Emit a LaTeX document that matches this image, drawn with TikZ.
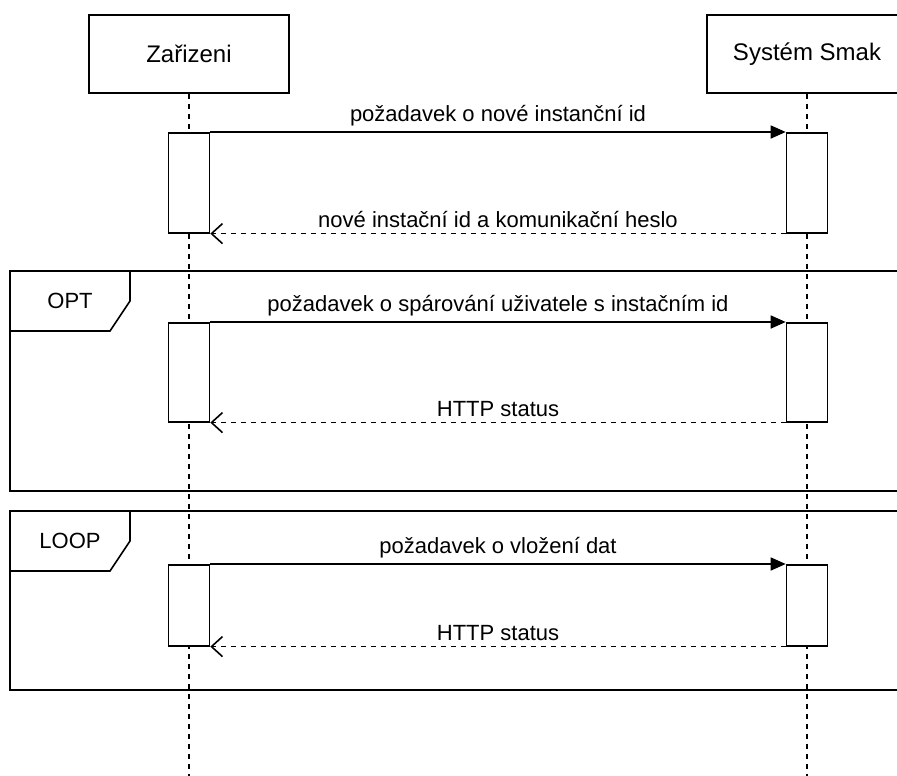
\documentclass[tikz,border=0pt]{standalone}
\usepackage{fontspec}
\setmainfont{Liberation Sans}
\usetikzlibrary{arrows.meta}

\begin{document}
\begin{tikzpicture}[x=1pt, y=-1pt, line width=1.6pt,
    actor/.style={draw, fill=white, minimum width=200pt, minimum height=78pt, font=\fontsize{24}{28}\selectfont},
    act/.style={draw, fill=white, minimum width=41pt, anchor=north},
    lifeline/.style={dash pattern=on 5pt off 5pt},
    msg/.style={-{Triangle[length=15pt, width=13pt]}},
    reply/.style={dash pattern=on 5pt off 5pt, -{Straight Barb[length=11pt, width=20pt]}},
    lbl/.style={midway, above, inner sep=5pt, font=\fontsize{22}{26}\selectfont},
    tag/.style={font=\fontsize{22}{26}\selectfont}]
    \useasboundingbox (0,0) rectangle (897,776);
    \clip (0,0) rectangle (897,776);

    % Draw frames
    \draw (10,271) rectangle (920,491);
    \draw (130,271) -- (130,301) -- (110,331) -- (10,331);
    \node[tag] (opt) at (70,301) {OPT};
    \draw (10,511) rectangle (920,690);
    \draw (130,511) -- (130,541) -- (110,571) -- (10,571);
    \node[tag] (loop) at (70,541) {LOOP};

    % Draw participants
    \node[actor] (zar) at (189,54) {Zařizeni};
    \node[actor] (sys) at (807,54) {Systém Smak};
    \coordinate (zarEnd) at (189,776);
    \coordinate (sysEnd) at (807,776);
    \draw[lifeline] (zar) -- (zarEnd);
    \draw[lifeline] (sys) -- (sysEnd);

    % Draw activations
    \node[act, minimum height=100pt] (z1) at (189,132) {};
    \node[act, minimum height=100pt] (s1) at (807,132) {};
    \node[act, minimum height=99pt] (z2) at (189,322) {};
    \node[act, minimum height=99pt] (s2) at (807,322) {};
    \node[act, minimum height=81pt] (z3) at (189,564) {};
    \node[act, minimum height=81pt] (s3) at (807,564) {};

    % Draw messages
    \draw[msg] (z1.north east) -- node[lbl] {požadavek o nové instanční id} (s1.north west);
    \draw[reply] (s1.south west) -- node[lbl] {nové instační id a komunikační heslo} (z1.south east);
    \draw[msg] (z2.north east) -- node[lbl] {požadavek o spárování uživatele s instačním id} (s2.north west);
    \draw[reply] (s2.south west) -- node[lbl] {HTTP status} (z2.south east);
    \draw[msg] (z3.north east) -- node[lbl] {požadavek o vložení dat} (s3.north west);
    \draw[reply] (s3.south west) -- node[lbl] {HTTP status} (z3.south east);
\end{tikzpicture}
\end{document}
